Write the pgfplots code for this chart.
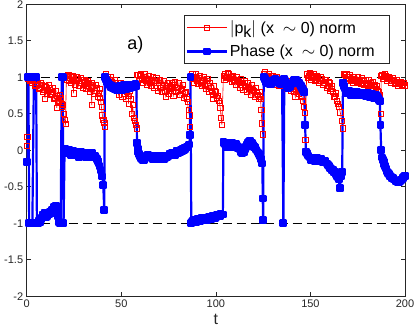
\documentclass[border=0pt]{standalone}
\usepackage{fontspec}
\setmainfont{Liberation Sans}
\usepackage{pgfplots}
\pgfplotsset{compat=1.18}
\usetikzlibrary{calc}
\definecolor{axgray}{rgb}{0.15,0.15,0.15}
\begin{document}
\begin{tikzpicture}
\begin{axis}[
  name=ax,
  scale only axis,
  width=378.3pt, height=292pt,
  xmin=0, xmax=200, ymin=-2, ymax=2,
  xtick={0,50,...,200},
  ytick={-2,-1.5,...,2},
  tick pos=both, tick align=inside,
  major tick length=4pt,
  axis line style={axgray, line width=0.6pt},
  every tick/.style={axgray, line width=0.6pt},
  tick label style={axgray, font=\fontsize{11}{13}\selectfont},
  /pgf/number format/assume math mode=true,
  xlabel={t},
  xlabel style={font=\fontsize{16}{18}\selectfont, axgray},
  legend cell align=left,
  legend style={at={(0.958,0.963)}, anchor=north east,
    font=\fontsize{16}{19}\selectfont, draw=axgray, line width=0.6pt,
    inner xsep=1pt, inner ysep=3pt, row sep=6pt},
  legend image code/.code={\draw[mark repeat=2,mark phase=2]
    plot coordinates {(0cm,0cm) (0.7cm,0cm) (1.4cm,0cm)};},
]
% |p_k| norm
\addplot[red, line width=0.6pt, mark=square, mark size=2.6pt, mark options={solid, line width=0.6pt}] coordinates {
(0,0.06) (0.3,0.18) (0.7,0.98) (1,1.0) (1.5,0.96)
(2,0.97) (2.5,1.02) (3,0.93) (3.5,0.99) (4,0.95) (4.5,0.88) (5,0.9) (5.5,0.96) (6,0.92)
(6.5,0.84) (7,0.86) (7.5,0.93) (8,0.9) (8.5,0.8) (9,0.83) (9.5,0.88) (9.7,0.71) (10,0.87)
(10.5,0.78) (11,0.82) (11.5,0.9) (12,0.85) (12.5,0.76) (13,0.78) (13.5,0.86) (14,0.8)
(14.5,0.7) (15,0.72) (15.5,0.82) (15.9,0.58) (16,0.75) (16.5,0.66) (17,0.68) (17.5,0.76)
(18,0.72) (18.5,0.64) (18.7,0.6) (19,0.62) (19.5,0.5) (20,0.42) (20.5,0.36)
(21,1.02) (21.5,0.97) (22,1.03) (22.5,0.95) (23,1.0) (23.5,0.92) (24,0.97) (24.5,1.02)
(24.7,0.78) (25,1.01) (25.5,0.9) (26,0.95) (26.5,1.0) (27,0.98) (27.5,0.88) (28,0.93)
(28.5,0.99) (29,0.96) (29.5,0.86) (30,0.9) (30.5,0.97) (31,0.94) (31.5,0.84) (32,0.88)
(32.5,0.95) (33,0.92) (33.5,0.8) (34,0.85) (34.4,0.62) (34.5,0.93) (35,0.89) (35.5,0.78)
(36,0.82) (36.5,0.9) (37,0.86) (37.5,0.74) (38,0.78) (38.5,0.84) (38.8,0.72) (39.2,0.66)
(39.5,0.6) (40,0.48) (40.5,0.42) (41,0.38) (41.4,0.32)
(42,1.04) (42.5,0.98) (43,1.0) (43.5,0.94) (44,0.96) (44.5,1.01) (45,0.94) (45.5,0.86)
(46,0.9) (46.5,0.97) (47,0.93) (47.5,0.82) (48,0.85) (48.5,0.76) (49,0.88) (49.5,0.93)
(50,0.82) (50.5,0.74) (51,0.86) (51.5,0.9) (52,0.78) (52.5,0.7) (53,0.8) (53.5,0.86)
(53.8,0.64) (54,0.75) (54.5,0.82) (55,0.7) (55.5,0.5) (56,0.62) (56.5,0.45) (57,0.4)
(57.5,0.35) (58,0.3)
(58.5,1.03) (59,1.03) (59.5,0.97) (60,1.02) (60.5,1.05) (61,0.98) (61.5,0.93) (62,1.0)
(62.5,1.04) (63,0.95) (63.5,0.9) (64,0.98) (64.5,1.02) (65,0.93) (65.5,0.88) (66,0.97)
(66.5,1.0) (67,0.92) (67.5,0.86) (68,0.95) (68.5,0.99) (69,0.88) (69.5,0.82) (70,0.93)
(70.5,0.97) (71,0.86) (71.5,0.8) (72,0.9) (72.5,0.95) (73,0.8) (73.5,0.74) (74,0.88)
(74.5,0.93) (75,0.78) (75.5,0.84) (76,0.87) (76.5,0.92) (77,0.82) (77.5,0.75) (78,0.9)
(78.5,0.94) (79,0.8) (79.5,0.86) (80,0.86) (80.5,0.92) (81,0.76) (81.5,0.82) (82,0.84)
(82.5,0.9) (83,0.72) (83.5,0.78) (84,0.8) (84.5,0.7) (85,0.66) (85.5,0.55) (86,0.48)
(86.3,0.32)
(86.8,1.0) (87,1.0) (87.5,1.04) (88,0.98) (88.5,0.93) (89,1.01) (89.5,1.04) (90,0.96)
(90.5,0.91) (91,0.99) (91.5,1.02) (92,0.93) (92.5,0.88) (93,0.97) (93.5,1.0) (94,0.9)
(94.5,0.84) (95,0.95) (95.5,0.98) (96,0.88) (96.5,0.8) (97,0.92) (97.5,0.86) (98,0.82)
(98.5,0.76) (98.7,0.71) (99,0.88) (99.5,0.82) (100,0.8) (100.5,0.72) (101,0.75)
(101.5,0.68) (102,0.65) (102.3,0.58) (102.8,0.45) (103.2,0.35)
(104,1.02) (104.5,0.97) (105,1.04) (105.5,0.99) (106,1.01) (106.5,1.06) (107,1.05)
(107.5,0.98) (108,1.0) (108.5,0.94) (109,1.02) (109.5,0.96) (110,0.97) (110.5,0.9)
(111,1.0) (111.5,0.95) (112,0.94) (112.5,0.86) (113,0.98) (113.5,0.92) (114,0.9)
(114.5,0.83) (115,0.95) (115.5,0.88) (116,0.87) (116.5,0.8) (117,0.92) (117.5,0.86)
(118,0.84) (118.5,0.76) (119,0.9) (119.5,0.83) (120,0.82) (120.5,0.74) (121,0.86)
(121.5,0.8) (122,0.76) (122.5,0.7) (123,0.8) (123.3,0.74) (123.6,0.7) (124,0.55)
(124.3,0.37) (124.7,0.22)
(125.3,1.05) (125.5,1.0) (126,1.07) (126.5,1.01) (127,1.02) (127.5,0.96) (128,1.04)
(128.5,0.98) (129,0.98) (129.5,0.92) (130,1.02) (130.5,0.96) (131,0.96) (131.5,0.9)
(132,1.0) (132.5,0.94) (133,0.93) (133.5,0.88) (134,0.98) (134.5,0.92) (135,0.95)
(135.5,0.89) (136,0.99) (136.5,0.93) (137,0.9) (137.5,0.84) (138,0.95) (138.5,0.89)
(139,0.87) (139.5,0.81) (140,0.93) (140.5,0.87) (141,0.85) (141.5,0.8) (142,0.73)
(142.5,0.84) (143,0.88) (143.5,0.8) (144,0.78) (144.5,0.86) (145,0.82) (145.5,0.74)
(146,0.68) (146.5,0.6) (147,0.51) (147.3,0.14)
(148,1.04) (148.5,0.99) (149,1.02) (149.5,1.06) (150,1.03) (150.5,0.97) (151,0.99)
(151.5,1.04) (152,1.01) (152.5,0.95) (153,0.97) (153.5,1.02) (154,1.0) (154.5,0.93)
(155,0.95) (155.5,1.0) (156,0.98) (156.5,0.9) (157,0.93) (157.5,0.97) (158,0.96)
(158.5,0.86) (159,0.88) (159.5,0.94) (160,0.92) (160.5,0.82) (161,0.84) (161.5,0.88)
(162,0.8) (162.5,0.74) (163,0.74) (163.5,0.78) (164,0.68) (164.5,0.64) (165,0.6)
(165.8,0.52) (166.5,0.4) (167,0.3)
(167.5,1.05) (168,1.03) (168.5,0.98) (169,1.05) (169.5,1.0) (170,1.0) (170.5,0.95)
(171,1.03) (171.5,0.97) (172,0.98) (172.5,0.93) (173,1.01) (173.5,0.96) (174,0.97)
(174.5,0.92) (175,1.0) (175.5,0.94) (176,0.96) (176.5,0.91) (177,0.99) (177.5,0.93)
(178,0.95) (178.5,0.9) (179,0.97) (179.5,0.91) (180,0.93) (180.5,0.88) (181,0.96)
(181.5,0.9) (182,0.92) (182.5,0.86) (183,0.94) (183.5,0.88) (184,0.9) (184.5,0.84)
(185,0.88) (185.5,0.82) (186,0.8) (186.4,0.76) (186.7,0.72) (187,0.5)
(187.5,1.02) (188,1.03) (188.5,0.98) (189,1.01) (189.5,1.04) (190,1.02) (190.5,0.96)
(191,0.98) (191.5,1.01) (192,0.99) (192.5,0.93) (193,0.95) (193.5,0.99) (194,0.96)
(194.5,0.91) (195,0.93) (195.5,0.96) (196,0.94) (196.5,0.89) (197,0.91) (197.5,0.94)
(198,0.92) (198.5,0.88) (199,0.9) (199.5,0.92) (200,0.89)
};
\addlegendentry{$|$p\raisebox{-0.45ex}{k}$|$ (x\ \ $\sim$ 0) norm\hspace*{11pt}}
% phase norm
\addplot[blue, line width=2.2pt, line join=round, mark=square*, mark size=2.8pt, mark options={solid, fill=blue}] coordinates {
(0,-0.16) (0.4,1) (0.9,1) (1.3,-1) (2,-1) (3,-1) (3.8,1) (4.3,1) (5,1) (5.4,-1)
(6,-1) (6.5,-0.97) (7,-0.98) (7.5,-0.94) (8,-0.92) (8.5,-0.88) (9,-0.9) (9.5,-0.86)
(10,-0.88) (10.5,-0.92) (11,-0.9) (11.5,-0.86) (12,-0.88) (12.5,-0.84) (13,-0.86)
(13.5,-0.82) (14,-0.84) (14.5,-0.78) (15,-0.8) (15.5,-0.76) (16,-0.82) (16.5,-0.9)
(17,-0.98) (17.5,-1.0) (18,-1) (18.5,1) (19,1) (19.5,-1)
(20,-0.02) (20.5,0.02) (21,0) (21.5,-0.04) (22,-0.02) (22.5,0.01) (23,-0.03) (23.5,-0.06)
(24,-0.04) (24.5,-0.01) (25,-0.03) (25.5,-0.07) (26,-0.05) (26.5,-0.02) (27,-0.06)
(27.5,-0.09) (28,-0.05) (28.5,-0.02) (29,-0.05) (29.5,-0.08) (30,-0.06) (30.5,-0.03)
(31,-0.06) (31.5,-0.09) (32,-0.07) (32.5,-0.04) (33,-0.06) (33.5,-0.1) (34,-0.07)
(34.5,-0.04) (35,-0.07) (35.5,-0.1) (36,-0.08) (36.5,-0.1) (37,-0.12) (37.5,-0.15)
(38,-0.18) (38.5,-0.22) (39,-0.27) (39.5,-0.31) (40,-0.36) (40.5,-0.48) (41,-0.82)
(41.3,1) (41.7,0.98) (42,0.97) (42.5,0.94) (43,0.92) (43.5,0.9) (44,0.89) (44.5,0.86)
(45,0.88) (45.5,0.85) (46,0.87) (46.5,0.84) (47,0.86) (47.5,0.83) (48,0.86) (48.5,0.84)
(49,0.85) (49.5,0.88) (50,0.86) (50.5,0.83) (51,0.86) (51.5,0.89) (52,0.87) (52.5,0.84)
(53,0.87) (53.5,0.9) (54,0.87) (54.5,0.85) (55,0.88) (55.5,0.9) (56,0.88) (56.5,0.86)
(57,0.89) (57.5,0.91) (58,0.88)
(58.3,0.1) (58.7,0.02) (59,-0.02) (59.5,-0.05) (60,-0.08) (60.5,-0.11) (61,-0.12)
(61.5,-0.14) (62,-0.13) (62.5,-0.11) (63,-0.1) (63.5,-0.07) (64,-0.06) (64.5,-0.09)
(65,-0.07) (65.5,-0.1) (66,-0.09) (66.5,-0.12) (67,-0.1) (67.5,-0.08) (68,-0.1)
(68.5,-0.12) (69,-0.09) (69.5,-0.11) (70,-0.1) (70.5,-0.07) (71,-0.1) (71.5,-0.12)
(72,-0.09) (72.5,-0.12) (73,-0.11) (73.5,-0.08) (74,-0.1) (74.5,-0.07) (75,-0.08)
(75.5,-0.05) (76,-0.07) (76.5,-0.04) (77,-0.06) (77.5,-0.03) (78,-0.04) (78.5,-0.06)
(79,-0.04) (79.5,-0.01) (80,-0.04) (80.5,-0.02) (81,-0.03) (81.5,0) (82,-0.01)
(82.5,0.02) (83,0) (83.5,0.03) (84,0.01) (84.5,0.04) (85,0.04) (85.5,0.06) (86,0.08)
(86.3,0.21) (86.6,1)
(87,-1) (87.5,-0.98) (88,-0.97) (88.5,-0.95) (89,-0.96) (89.5,-0.98) (90,-0.96)
(90.5,-0.94) (91,-0.95) (91.5,-0.97) (92,-0.95) (92.5,-0.93) (93,-0.94) (93.5,-0.96)
(94,-0.94) (94.5,-0.92) (95,-0.93) (95.5,-0.95) (96,-0.93) (96.5,-0.91) (97,-0.92)
(97.5,-0.94) (98,-0.92) (98.5,-0.9) (99,-0.91) (99.5,-0.93) (100,-0.91) (100.5,-0.89)
(101,-0.9) (101.5,-0.88) (102,-0.9) (102.5,-0.87) (103,-0.88) (103.7,-0.88)
(104,0.12) (104.5,0.1) (105,0.08) (105.5,0.05) (106,0.07) (106.5,0.1) (107,0.07)
(107.5,0.04) (108,0.08) (108.5,0.1) (109,0.07) (109.5,0.04) (110,0.06) (110.5,0.09)
(111,0.06) (111.5,0.03) (112,0.05) (112.5,0.02) (113,0) (113.5,-0.03) (114,-0.04)
(114.5,-0.02) (115,-0.03) (115.5,0.02) (116,0.05) (116.5,0.08) (117,0.1) (117.5,0.12)
(118,0.13) (118.5,0.1) (119,0.1) (119.5,0.07) (120,0.05) (120.5,0.04) (121,0.02)
(121.5,0) (122,-0.02) (122.5,-0.03) (123,-0.05) (123.5,-0.08) (124,-0.12) (124.6,-0.18)
(124.8,-0.66) (125,-0.96)
(125.3,1) (125.7,0.97) (126,0.98) (126.5,0.94) (127,0.95) (127.5,0.92) (128,0.93)
(128.5,0.9) (129,0.91) (129.5,0.94) (130,0.93) (130.5,0.96) (131,0.95) (131.5,0.98)
(132,0.96) (132.5,0.93) (133,0.95) (133.5,0.92) (134,0.93) (134.5,0.9) (135,0.92)
(135.7,-1) (136.2,0.98) (136.6,0.95) (137,0.92) (137.5,0.88) (138,0.85) (138.5,0.88)
(139,0.87) (139.5,0.9) (140,0.9) (140.5,0.93) (141,0.93) (141.5,0.96) (142,0.95)
(142.5,0.97) (143,0.95) (143.5,0.92) (144,0.93) (144.5,0.9) (145,0.88) (145.5,0.85)
(146,0.83) (146.5,0.8) (146.8,0.8) (147.2,0.35) (147.6,-0.02)
(148,-0.04) (148.5,-0.07) (149,-0.08) (149.5,-0.1) (150,-0.11) (150.5,-0.14) (151,-0.13)
(151.5,-0.11) (152,-0.13) (152.5,-0.15) (153,-0.13) (153.5,-0.11) (154,-0.13)
(154.5,-0.15) (155,-0.13) (155.5,-0.12) (156,-0.14) (156.5,-0.16) (157,-0.15)
(157.5,-0.14) (158,-0.16) (158.5,-0.18) (159,-0.18) (159.5,-0.2) (160,-0.22)
(160.5,-0.24) (161,-0.25) (161.5,-0.27) (162,-0.27) (162.5,-0.3) (163,-0.3)
(163.5,-0.33) (164,-0.35) (164.5,-0.37) (165,-0.4) (165.6,-0.52) (166.2,-0.35)
(166.8,-0.3)
(167.2,0.92) (167.6,0.88) (168,0.85) (168.5,0.82) (169,0.8) (169.5,0.78) (170,0.79)
(170.5,0.81) (171,0.78) (171.5,0.76) (172,0.78) (172.5,0.8) (173,0.78) (173.5,0.76)
(174,0.78) (174.5,0.8) (175,0.77) (175.5,0.75) (176,0.77) (176.5,0.79) (177,0.77)
(177.5,0.75) (178,0.76) (178.5,0.78) (179,0.76) (179.5,0.74) (180,0.76) (180.5,0.78)
(181,0.76) (181.5,0.73) (182,0.75) (182.5,0.77) (183,0.75) (183.5,0.72) (184,0.74)
(184.5,0.76) (185,0.74) (185.5,0.71) (186,0.72) (186.4,0.69) (186.7,0.67) (187,0.35)
(187.4,0)
(188,-0.1) (188.4,-0.13) (188.7,-0.16) (189.1,-0.19) (189.5,-0.22) (190,-0.25)
(190.5,-0.29) (191,-0.31) (191.5,-0.33) (192,-0.35) (192.5,-0.36) (193,-0.38)
(193.5,-0.38) (194,-0.4) (194.5,-0.4) (195,-0.42) (195.5,-0.42) (196,-0.44)
(196.5,-0.43) (197,-0.43) (197.5,-0.42) (198,-0.41) (198.5,-0.4) (199,-0.38)
(199.5,-0.36) (200,-0.35)
};
\addlegendentry{Phase (x\ \ $\sim$ 0) norm\hspace*{11pt}}
% reference levels
\addplot[black, line width=0.9pt, dash pattern=on 9pt off 5pt, forget plot] coordinates {(0,1) (200,1)};
\addplot[black, line width=0.9pt, dash pattern=on 9pt off 5pt, forget plot] coordinates {(0,-1) (200,-1)};
\node[font=\fontsize{18}{20}\selectfont, black] at (axis cs:57.5,1.44) {a)};
\end{axis}
\pgfresetboundingbox
\path ($(ax.south west)+(-26.7pt,-37.7pt)$) rectangle ($(ax.north east)+(10pt,4.3pt)$);
\end{tikzpicture}
\end{document}
